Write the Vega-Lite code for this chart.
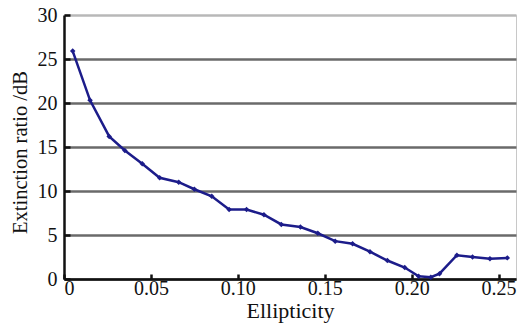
{
  "$schema": "https://vega.github.io/schema/vega-lite/v6.json",
  "width": 452,
  "height": 264,
  "autosize": "none",
  "padding": {"left": 64, "top": 15, "right": 2, "bottom": 47},
  "background": "white",
  "config": {
    "view": {"stroke": "#c8c8c8", "strokeWidth": 1},
    "font": "DejaVu Serif",
    "axis": {
      "labelFont": "Liberation Serif, DejaVu Serif, serif",
      "titleFont": "Liberation Serif, DejaVu Serif, serif",
      "labelFontSize": 20,
      "titleFontSize": 22,
      "titleFontWeight": "normal",
      "labelColor": "#111",
      "titleColor": "#111",
      "domainColor": "#111",
      "domainWidth": 2.5,
      "tickColor": "#111",
      "tickWidth": 2.5
    }
  },
  "data": {
    "values": [
      {"e": 0.005, "r": 25.9},
      {"e": 0.015, "r": 20.3},
      {"e": 0.026, "r": 16.2},
      {"e": 0.035, "r": 14.6},
      {"e": 0.045, "r": 13.1},
      {"e": 0.055, "r": 11.5},
      {"e": 0.066, "r": 11.0},
      {"e": 0.075, "r": 10.2},
      {"e": 0.085, "r": 9.4},
      {"e": 0.095, "r": 7.9},
      {"e": 0.105, "r": 7.9},
      {"e": 0.115, "r": 7.3},
      {"e": 0.125, "r": 6.2},
      {"e": 0.136, "r": 5.9},
      {"e": 0.146, "r": 5.2},
      {"e": 0.156, "r": 4.3},
      {"e": 0.166, "r": 4.0},
      {"e": 0.176, "r": 3.1},
      {"e": 0.186, "r": 2.1},
      {"e": 0.196, "r": 1.3},
      {"e": 0.204, "r": 0.3},
      {"e": 0.211, "r": 0.2},
      {"e": 0.216, "r": 0.6},
      {"e": 0.226, "r": 2.7},
      {"e": 0.235, "r": 2.5},
      {"e": 0.245, "r": 2.3},
      {"e": 0.255, "r": 2.4}
    ]
  },
  "encoding": {
    "x": {
      "field": "e",
      "type": "quantitative",
      "scale": {"domain": [0, 0.26], "nice": false, "zero": false},
      "axis": {
        "title": "Ellipticity",
        "values": [0, 0.05, 0.1, 0.15, 0.2, 0.25],
        "labelExpr": "datum.value === 0 ? '0' : format(datum.value, '.2f')",
        "grid": false,
        "tickSize": -5,
        "labelPadding": 4,
        "titlePadding": 2
      }
    },
    "y": {
      "field": "r",
      "type": "quantitative",
      "scale": {"domain": [0, 30], "nice": false},
      "axis": {
        "title": "Extinction ratio /dB",
        "titleFontSize": 20.5,
        "titleY": 137,
        "values": [0, 5, 10, 15, 20, 25, 30],
        "grid": true,
        "gridColor": {"condition": {"test": "datum.value === 30", "value": "#b8b8b8"}, "value": "#6a6a6a"},
        "gridWidth": 2.5,
        "tickSize": -6,
        "labelPadding": 13,
        "titlePadding": 7
      }
    }
  },
  "layer": [
    {
      "mark": {"type": "line", "color": "#1c1c8a", "strokeWidth": 2.5, "interpolate": "linear"}
    },
    {
      "mark": {"type": "point", "shape": "diamond", "filled": true, "color": "#1c1c8a", "size": 30, "opacity": 1}
    }
  ]
}
